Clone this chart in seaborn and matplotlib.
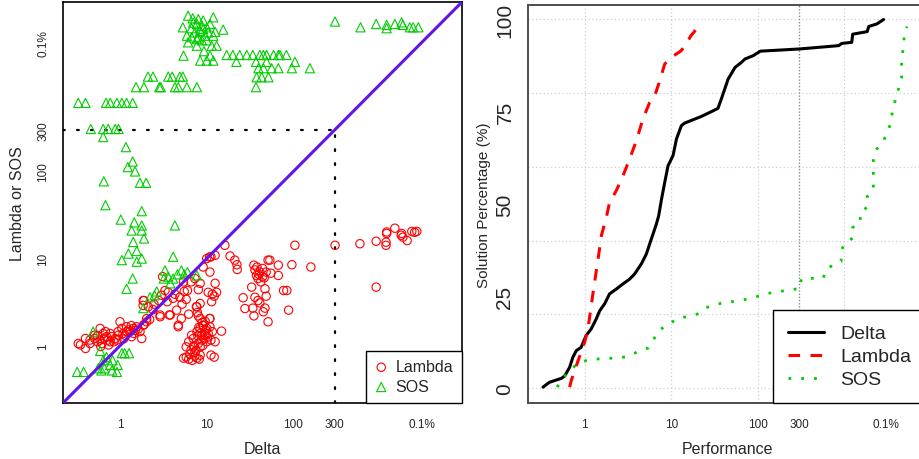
import matplotlib
matplotlib.use("Agg")
import matplotlib.pyplot as plt
import matplotlib.ticker as mticker
import pandas as pd
import seaborn as sns

# Left panel: per-instance ratios, Delta on x, Lambda or SOS on y ("0.1%" tick = 3000)
lam_lowleft = [(0.33, 1.06), (0.35, 1.02), (0.40, 0.93), (0.40, 1.21), (0.45, 1.16), (0.51, 1.21),
               (0.51, 1.32), (0.59, 1.16), (0.59, 1.58), (0.64, 1.38), (0.70, 1.27), (0.77, 1.11),
               (0.77, 1.38), (0.88, 1.21), (0.96, 1.32), (1.0, 1.88), (1.05, 1.58), (1.14, 1.32),
               (1.19, 1.65), (1.30, 1.45), (1.36, 1.27), (1.42, 1.58), (1.56, 1.65), (1.70, 1.45),
               (1.78, 1.21), (1.86, 1.72), (2.03, 1.88), (0.45, 1.06), (0.55, 1.11), (0.62, 1.06),
               (0.66, 1.21), (0.72, 1.16), (0.80, 1.27), (0.85, 1.11), (0.92, 1.16), (1.08, 1.38),
               (1.2, 1.45), (1.25, 1.52), (1.45, 1.38), (1.5, 1.5), (1.62, 1.55), (1.9, 1.75),
               (0.55, 1.3), (0.68, 1.45), (0.95, 1.45), (1.1, 1.2), (1.35, 1.7), (0.74, 1.02), (0.6, 0.98)]
lam_diag = [(2.03, 2.05), (2.2, 2.0), (1.89, 3.3), (2.12, 2.8), (2.47, 3.0), (2.8, 3.3), (2.9, 2.15),
            (3.3, 4.3), (3.6, 4.1), (3.8, 2.25), (4.1, 3.5), (4.5, 2.56), (4.7, 1.65), (4.9, 3.6),
            (5.1, 2.05), (5.4, 5.4), (5.5, 4.2), (5.8, 3.4), (6.0, 4.3), (6.2, 2.3), (6.6, 5.4),
            (7.3, 5.9), (7.7, 2.8), (8.4, 5.2), (8.0, 4.4), (9.1, 8.0), (10.0, 10.0), (11.2, 10.5),
            (12.5, 10.9), (10.9, 7.0), (10.4, 4.1), (11.6, 3.9), (12.5, 5.2), (11.4, 3.2), (12.2, 3.7),
            (13.0, 4.1), (8.4, 2.05), (10.9, 2.05), (9.1, 1.7), (3.1, 6.2), (1.85, 3.3), (1.85, 2.9),
            (2.9, 2.25), (3.7, 2.25), (4.7, 1.72), (7.6, 2.8), (7.8, 2.4), (8.4, 3.05), (3.0, 3.8),
            (3.5, 3.2), (4.3, 3.9), (5.2, 3.0), (2.4, 2.6)]
lam_blob = [(5.4, 0.72), (5.8, 0.74), (6.2, 0.70), (6.4, 0.80), (7.0, 0.97), (7.3, 0.76), (7.7, 0.72),
            (8.4, 0.78), (8.0, 1.06), (8.8, 1.16), (7.0, 1.21), (7.7, 1.45), (8.4, 1.58), (9.1, 1.72),
            (10.0, 1.58), (10.9, 1.65), (9.5, 1.32), (10.4, 1.38), (11.6, 1.45), (11.2, 1.16),
            (12.5, 1.11), (14.8, 1.47), (11.2, 0.78), (12.2, 0.74), (8.0, 2.2), (8.8, 1.32), (6.7, 1.32),
            (6.2, 1.11), (5.8, 0.97), (10.0, 1.11), (10.8, 2.05), (8.4, 0.97), (6.8, 0.68), (7.5, 0.88),
            (8.2, 0.70), (7.1, 1.0), (9.3, 1.2), (9.8, 1.5), (7.9, 1.3), (8.6, 1.4), (9.0, 1.0),
            (7.3, 0.84), (6.6, 0.9), (10.2, 1.25), (8.9, 1.85), (9.6, 1.9), (8.1, 1.62)]
lam_right = [(16.2, 14.2), (18.6, 10.7), (21.1, 9.6), (22.3, 8.5), (22.5, 7.5), (26.3, 3.55), (27.6, 2.67),
             (35, 2.2), (34, 2.7), (36, 3.6), (33, 4.7), (35, 8.4), (36, 7.4), (37.5, 6.4), (39, 5.9),
             (41, 7.0), (42, 5.4), (44, 6.2), (44, 7.7), (47, 4.5), (48.5, 3.7), (48.5, 7.0), (51, 9.6),
             (53.5, 9.6), (55, 6.8), (51, 1.88), (39, 3.3), (41, 3.1), (47, 2.7), (45, 2.45), (67, 8.4),
             (67, 6.4), (77, 4.3), (84, 4.3), (88, 2.56), (96, 8.5), (104, 14.2), (159, 8.0),
             (10.8, 10.4), (40, 6.6), (46, 6.0), (38, 8.0)]
lam_far = [(302, 14.2), (585, 14.8), (900, 15.8), (1170, 15.4), (1170, 14.2), (1190, 19.4), (1190, 20.2),
           (1480, 22.3), (1770, 19.4), (1830, 17.6), (2050, 16.1), (2320, 20.5), (2650, 20.5),
           (900, 4.7), (1750, 18.5), (2500, 20.0)]

sos_top = [(6.1, 6130), (6.9, 5720), (11.9, 5870), (5.3, 4510), (7.7, 4920), (8.8, 4700), (10.0, 4510),
           (8.4, 4120), (7.3, 3950), (10.4, 3950), (15.5, 4240), (5.9, 3610), (6.7, 3460), (8.0, 3460),
           (9.6, 3610), (11.9, 3610), (6.1, 3030), (7.7, 2770), (11.4, 2770), (13.0, 2770), (5.4, 2130),
           (8.4, 1870), (10.0, 1870), (11.9, 1870), (10.9, 2130), (8.0, 5600), (9.1, 5400), (6.7, 4400),
           (9.1, 4300), (10.9, 4920), (7.7, 3300), (8.8, 3200), (10.0, 3200), (9.3, 2400), (7.0, 5100),
           (12.5, 4000)]
sos_band = [(17, 2170), (20, 2170), (24, 2170), (29, 2170), (34, 2170), (41, 2170), (45, 2170), (49, 2170),
            (59, 2170), (67, 2170), (70, 2170), (83, 2170), (22, 1810), (37, 1810), (49, 1810), (104, 1810),
            (39.5, 1530), (45, 1530), (56, 1530), (67, 1530), (96, 1530), (155, 1530),
            (37.7, 1205), (43, 1205), (51.5, 1205), (37, 927)]
sos_far = [(302, 5250), (595, 4510), (900, 4920), (1190, 4800), (1190, 4400), (1480, 4920), (1770, 5140),
           (1830, 4800), (2200, 4510), (2400, 4510), (2760, 4510)]
sos_ladder = [(2.1, 1225), (2.4, 1225), (3.6, 1225), (4.0, 1225), (4.9, 1225), (5.3, 1225),
              (1.53, 927), (1.89, 927), (2.84, 927), (2.95, 927), (4.3, 927), (4.7, 927), (5.9, 927), (7.7, 927),
              (0.33, 612), (0.40, 612), (0.69, 612), (0.77, 612), (0.92, 612), (1.05, 612), (1.19, 612), (1.40, 612),
              (0.46, 307), (0.64, 307), (0.73, 307), (0.88, 307), (0.96, 307), (0.64, 248),
              (1.17, 190), (1.40, 130), (1.23, 112), (1.49, 100), (0.65, 77), (1.70, 74), (2.0, 74),
              (0.68, 41), (1.78, 35), (1.02, 28), (1.46, 26), (1.78, 24), (4.3, 24),
              (1.36, 21), (1.78, 21), (1.89, 17), (1.42, 15.5), (1.25, 11.4), (1.56, 12.2), (1.05, 9.6),
              (1.56, 9.2), (1.78, 10), (4.1, 10.5), (1.40, 5.9), (1.19, 4.5)]
sos_diag = [(3.3, 7.3), (3.6, 6.2), (4.1, 5.9), (5.1, 7.3), (5.5, 6.6), (6.0, 7.0), (7.7, 6.4), (4.6, 6.6),
            (3.2, 5.9), (3.8, 5.2), (2.65, 4.2), (2.22, 3.6), (2.5, 3.8), (1.86, 2.7), (0.49, 1.45)]
sos_low = [(0.32, 0.50), (0.38, 0.50), (0.59, 0.87), (0.64, 0.68), (0.56, 0.55), (0.66, 0.55), (0.77, 0.60),
           (0.82, 0.68), (0.92, 0.50), (0.94, 0.60), (1.05, 0.82), (1.13, 0.82), (1.27, 0.82), (0.70, 0.74),
           (0.61, 0.52), (0.81, 0.52)]

# Right panel: performance profiles (% of solved instances)
delta_perf = [0.33, 0.39, 0.54, 0.59, 0.67, 0.73, 0.80, 0.91, 1.04, 1.19, 1.36, 1.49, 1.70, 1.94, 2.32, 2.77,
              3.31, 3.78, 4.51, 5.16, 5.63, 6.16, 6.73, 7.17, 7.69, 8.41, 9.18, 10.5, 11.5, 13.1, 14.3, 22.3,
              29.1, 34.7, 37.9, 41.5, 45.4, 54.7, 65.0, 71.5, 88.9, 107, 306, 863, 935, 1220, 1250, 1840,
              1920, 2390, 2850]
delta_pct = [0.3, 1.6, 2.7, 3.4, 5.7, 8.4, 10.2, 11.1, 14.3, 16.1, 18.8, 21.0, 22.9, 25.6, 26.9, 28.3,
             29.6, 31.0, 33.7, 36.4, 39.1, 41.8, 44.5, 46.8, 51.0, 55.8, 60.3, 63.1, 67.6, 71.2, 71.9, 73.7,
             75.0, 75.9, 78.4, 81.1, 83.8, 87.0, 88.4, 89.3, 90.2, 91.4, 92.0, 92.9, 93.5, 93.8, 96.0, 96.7,
             98.1, 98.8, 100]
lambda_perf = [0.67, 0.70, 0.80, 0.91, 1.00, 1.09, 1.19, 1.30, 1.43, 1.56, 1.78, 1.94, 2.32, 2.77, 3.31,
               3.95, 4.71, 5.63, 6.45, 7.37, 8.41, 10.0, 13.0, 14.5, 16.9, 20.4]
lambda_pct = [0.3, 2.1, 6.1, 9.8, 12.5, 16.1, 22.4, 28.7, 35.1, 41.4, 46.4, 50.4, 53.6, 57.6, 62.2,
              67.1, 73.0, 77.5, 79.3, 83.4, 87.9, 89.7, 91.5, 92.9, 95.6, 97.9]
sos_perf = [0.48, 0.56, 0.67, 0.82, 1.04, 1.36, 1.86, 2.43, 3.31, 4.13, 5.40, 6.32, 7.23, 9.0, 11.5, 15.0,
            20.0, 24.9, 32.3, 43, 57, 76, 99, 130, 172, 231, 309, 318, 428, 573, 617, 750, 920, 920, 1020,
            1250, 1250, 1530, 1530, 1840, 1840, 2170, 2170, 2170, 2170, 2390, 2800, 3070, 3360, 3530,
            3750, 3960, 4300, 4600, 4600, 4600, 4900, 4900, 5300]
sos_pct = [0.3, 2.7, 4.8, 6.6, 7.5, 7.9, 8.1, 8.2, 8.7, 10.0, 10.9, 13.4, 15.8, 17.0, 18.8, 19.4, 20.1,
           21.8, 22.7, 23.3, 23.6, 24.2, 24.9, 25.7, 26.2, 26.6, 27.1, 29.6, 29.8, 29.9, 32.2, 33.5, 34.4,
           37.3, 39.4, 40.7, 43.6, 44.8, 47.7, 49.1, 52.0, 53.8, 56.7, 59.7, 62.6, 64.9, 66.7, 68.9, 71.2,
           73.9, 76.5, 79.1, 81.6, 84.1, 87.0, 90.0, 92.7, 95.6, 98.1]

tick_vals = [1, 10, 100, 300, 3000]
tick_labels = ["1", "10", "100", "300", "0.1%"]
pct_ticks = [0, 25, 50, 75, 100]
cutoff = 300

lam_df = pd.DataFrame(lam_lowleft + lam_diag + lam_blob + lam_right + lam_far, columns=["delta", "other"])
sos_df = pd.DataFrame(sos_top + sos_band + sos_far + sos_ladder + sos_diag + sos_low, columns=["delta", "other"])

sns.set_style("ticks")
plt.rcParams['font.family'] = ['Liberation Sans', 'DejaVu Sans']

fig = plt.figure(figsize=(9.2, 4.6), dpi=100)
ax1 = fig.add_axes([63 / 920, 56 / 460, 399 / 920, 401 / 460])
ax2 = fig.add_axes([528.3 / 920, 56 / 460, 397.7 / 920, 398.3 / 460])

lims = (0.22, 8800)
green = "#00cd00"

# ---- left: scatter
ax1.set_xscale("log")
ax1.set_yscale("log")
sns.scatterplot(data=lam_df, x="delta", y="other", marker="o", s=36, facecolor="none",
                edgecolor="red", linewidth=0.8, label="Lambda", ax=ax1, zorder=3)
sns.scatterplot(data=sos_df, x="delta", y="other", marker="^", s=44, facecolor="none",
                edgecolor=green, linewidth=0.8, label="SOS", ax=ax1, zorder=3)
ax1.axline((1, 1), (10, 10), color="#6314ec", lw=2.2, zorder=4)
ax1.plot([lims[0], cutoff], [cutoff, cutoff], color="black", lw=1.6, ls=(0, (0.8, 5.5)),
         dash_capstyle="round", zorder=2)
ax1.plot([cutoff, cutoff], [lims[0], cutoff], color="black", lw=1.6, ls=(0, (0.8, 5.5)),
         dash_capstyle="round", zorder=2)
ax1.set_xlim(lims)
ax1.set_ylim(lims)
ax1.xaxis.set_major_locator(mticker.FixedLocator(tick_vals))
ax1.yaxis.set_major_locator(mticker.FixedLocator(tick_vals))
ax1.xaxis.set_minor_locator(mticker.NullLocator())
ax1.yaxis.set_minor_locator(mticker.NullLocator())
ax1.set_xticklabels(tick_labels)
ax1.set_yticklabels(tick_labels, rotation=90, va="center")
ax1.tick_params(axis="x", length=0, pad=11, labelsize=8.5)
ax1.tick_params(axis="y", length=0, pad=10, labelsize=8.5)
ax1.set_xlabel("Delta", fontsize=11.5, labelpad=8)
ax1.set_ylabel("Lambda or SOS", fontsize=11.5, labelpad=9)
for sp in ax1.spines.values():
    sp.set_visible(True)
    sp.set_color("black")
    sp.set_linewidth(1.2)
leg1 = ax1.legend(loc="lower right", bbox_to_anchor=(1, 0), borderaxespad=0, fancybox=False,
                  edgecolor="black", framealpha=1, fontsize=11.5, handlelength=0.8,
                  handletextpad=0.5, borderpad=0.55, labelspacing=0.3)
leg1.get_frame().set_linewidth(1.0)

# ---- right: performance profile
ax2.set_xscale("log")
for v in [1, 10, 100, 1000]:
    ax2.axvline(v, color="#d0d0d0", lw=0.9, ls=(0, (1, 2)), zorder=0)
for h in range(0, 101, 20):
    ax2.axhline(h, color="#d0d0d0", lw=0.9, ls=(0, (1, 2)), zorder=0)
ax2.axvline(cutoff, color="#8a8a8a", lw=1.0, ls=(0, (1, 1.3)), zorder=0)

sns.lineplot(x=delta_perf, y=delta_pct, sort=False, estimator=None, color="black", lw=2.2,
             label="Delta", ax=ax2)
sns.lineplot(x=lambda_perf, y=lambda_pct, sort=False, estimator=None, color="red", lw=2.2,
             ls=(0, (3.8, 3.4)), label="Lambda", ax=ax2)
sns.lineplot(x=sos_perf, y=sos_pct, sort=False, estimator=None, color=green, lw=2.0,
             ls=(0, (1, 3.6)), label="SOS", ax=ax2)

ax2.set_xlim(0.223, 8800)
ax2.set_ylim(-4, 104)
ax2.xaxis.set_major_locator(mticker.FixedLocator(tick_vals))
ax2.xaxis.set_minor_locator(mticker.NullLocator())
ax2.set_xticklabels(tick_labels)
ax2.set_yticks(pct_ticks)
ax2.set_yticklabels([str(t) for t in pct_ticks], rotation=90, va="center")
ax2.tick_params(axis="x", length=0, pad=11, labelsize=8.5)
ax2.tick_params(axis="y", length=0, pad=10, labelsize=15)
ax2.set_xlabel("Performance", fontsize=11.5, labelpad=8)
ax2.set_ylabel("Solution Percentage (%)", fontsize=11, labelpad=3)
for sp in ax2.spines.values():
    sp.set_visible(True)
    sp.set_color("#4d4d4d")
    sp.set_linewidth(1.4)
leg2 = ax2.legend(loc="lower right", bbox_to_anchor=(1, 0), borderaxespad=0, fancybox=False,
                  edgecolor="black", framealpha=1, fontsize=14, handlelength=1.85,
                  handletextpad=0.85, borderpad=0.75, labelspacing=0.28)
leg2.get_frame().set_linewidth(1.0)

fig.savefig("out.png", dpi=100)
